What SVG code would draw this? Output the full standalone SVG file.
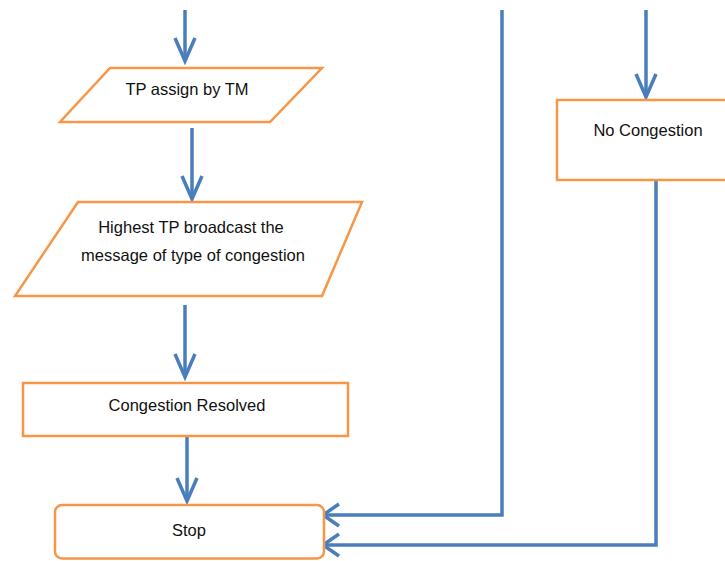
<svg xmlns="http://www.w3.org/2000/svg" width="725" height="561" viewBox="0 0 725 561">
<defs>
<style>
.shape{fill:#ffffff;stroke:#F79646;stroke-width:2.5}
.lbl{font-family:"Liberation Sans",Arial,sans-serif;font-size:16.5px;fill:#111111;text-anchor:middle}
.conn{fill:none;stroke:#4A7EBB;stroke-width:3.5;stroke-linejoin:miter}
</style>
<marker id="av" markerUnits="userSpaceOnUse" viewBox="-30 -15 34 30" refX="0" refY="0" markerWidth="34" markerHeight="30" orient="auto">
<path d="M-23,-10 L0,0 L-23,10" fill="none" stroke="#4A7EBB" stroke-width="3.5"/>
</marker>
<marker id="ah" markerUnits="userSpaceOnUse" viewBox="-30 -15 34 30" refX="0" refY="0" markerWidth="34" markerHeight="30" orient="auto">
<path d="M-16,-11 L0,0 L-16,11" fill="none" stroke="#4A7EBB" stroke-width="3.5"/>
</marker>
</defs>
<rect width="725" height="561" fill="#ffffff"/>
<g id="connectors">
<line class="conn" x1="185" y1="10" x2="185" y2="61" marker-end="url(#av)"/>
<line class="conn" x1="192" y1="128" x2="192" y2="199" marker-end="url(#av)"/>
<line class="conn" x1="185" y1="305" x2="185" y2="377" marker-end="url(#av)"/>
<line class="conn" x1="187" y1="437" x2="187" y2="501" marker-end="url(#av)"/>
<line class="conn" x1="646" y1="10" x2="646" y2="97" marker-end="url(#av)"/>
<polyline class="conn" points="502,10 502,515 323,515" marker-end="url(#ah)"/>
<polyline class="conn" points="656,181 656,545 323,545" marker-end="url(#ah)"/>
</g>
<g id="tp-assign">
<polygon class="shape" points="110,68 322,68 270,122 60,122"/>
<text class="lbl" x="187" y="95">TP assign by TM</text>
</g>
<g id="broadcast">
<polygon class="shape" points="78,202 362,202 322,296 15,296"/>
<text class="lbl" x="191" y="233">Highest TP broadcast the</text>
<text class="lbl" x="193" y="261">message of type of congestion</text>
</g>
<g id="resolved">
<rect class="shape" x="23" y="383" width="325" height="53"/>
<text class="lbl" x="187" y="411">Congestion Resolved</text>
</g>
<g id="stop">
<rect class="shape" x="55" y="505" width="269" height="53.5" rx="7"/>
<text class="lbl" x="189" y="536">Stop</text>
</g>
<g id="no-congestion">
<rect class="shape" x="557" y="100" width="175" height="80"/>
<text class="lbl" x="648" y="136">No Congestion</text>
</g>
</svg>
